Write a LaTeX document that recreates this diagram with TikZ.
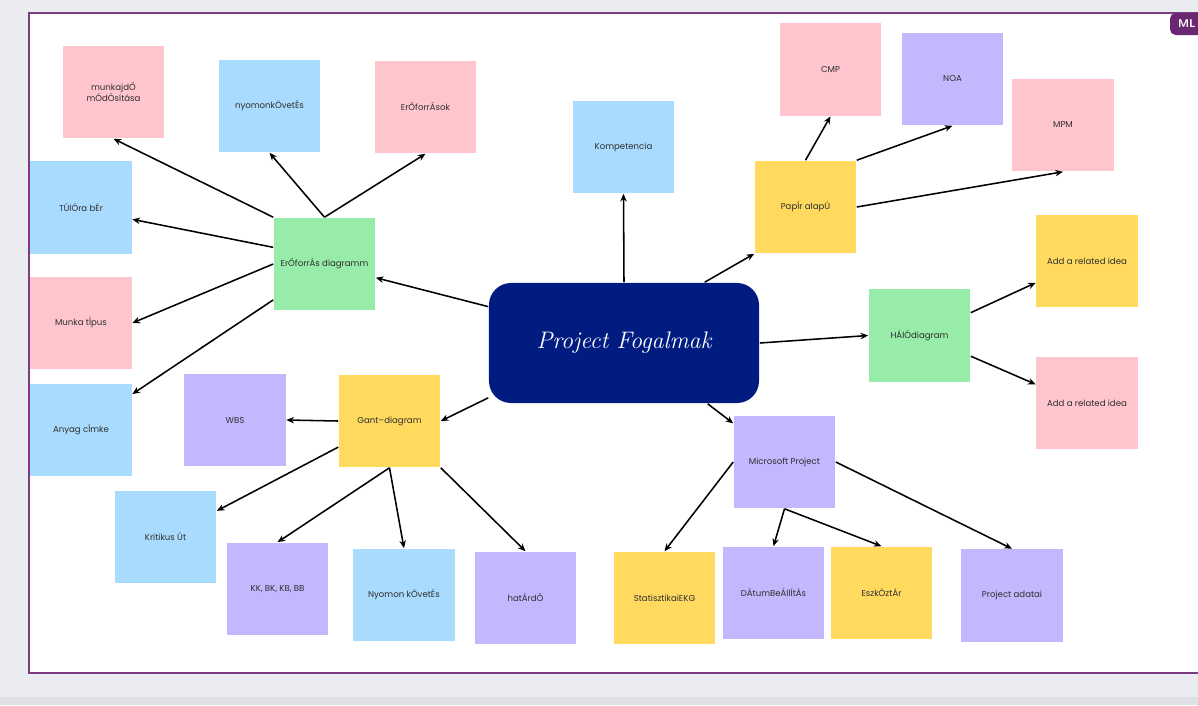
\documentclass[tikz,border=0pt]{standalone}
\usepackage{fontspec}
\newfontfamily\notefont{Poppins}
\usetikzlibrary{arrows.meta}

\definecolor{pagegrey}{HTML}{EBECEF}
\definecolor{bargrey}{HTML}{DFE0E4}
\definecolor{boardline}{HTML}{7D3C82}
\definecolor{badge}{HTML}{6A2872}
\definecolor{navy}{HTML}{001C80}
\definecolor{pinknote}{HTML}{FFC5CD}
\definecolor{bluenote}{HTML}{A9DBFF}
\definecolor{lilacnote}{HTML}{C4B7FE}
\definecolor{yellownote}{HTML}{FFDA5F}
\definecolor{greennote}{HTML}{98ECAA}
\definecolor{notetext}{HTML}{2E2E2E}

\tikzstyle{note}=[rectangle, minimum width=2.525cm, minimum height=2.3cm, inner sep=1pt, align=center, text=notetext, font=\notefont\fontsize{6.1}{7.6}\selectfont]
\tikzstyle{core}=[rectangle, rounded corners=0.55cm, fill=navy, minimum width=6.75cm, minimum height=3cm, text=white, font=\fontsize{17}{19}\selectfont\itshape]

\begin{document}
\begin{tikzpicture}[x=0.025cm, y=-0.025cm, >={Stealth[length=5.5pt,width=4.6pt]}, line width=1.1pt]
    \useasboundingbox (0,0) rectangle (1198,705);
    % board
    \fill[pagegrey] (0,0) rectangle (1198,705);
    \fill[bargrey] (0,697) rectangle (1198,705);
    \draw[boardline, fill=white, line width=1.3pt] (29,13) rectangle (1215,673);
    \node (ml) [fill=badge, rounded corners=4pt, minimum width=0.85cm, minimum height=0.55cm, inner sep=0pt, text=white, font=\sffamily\bfseries\fontsize{8}{9}\selectfont] at (1187,24) {ML};

    \node (0) [core] at (624,343) {Project Fogalmak};
    \node (1) [note, fill=greennote] at (324.5,264) {ErŐforrÁs diagramm};
    \node (2) [note, fill=pinknote] at (113.5,92) {munkajdŐ\\mÓdÓsítása};
    \node (3) [note, fill=bluenote] at (269.5,106) {nyomonkÖvetÉs};
    \node (4) [note, fill=pinknote] at (425.5,107) {ErŐforrÁsok};
    \node (5) [note, fill=bluenote] at (81,207.5) {TÚlÓra bÉr};
    \node (6) [note, fill=pinknote] at (81,323) {Munka tÍpus};
    \node (7) [note, fill=bluenote] at (81,430) {Anyag cÍmke};
    \node (8) [note, fill=yellownote] at (389.5,421) {Gant–diagram};
    \node (9) [note, fill=lilacnote] at (235,420) {WBS};
    \node (10) [note, fill=bluenote] at (165.5,537) {Kritikus Út};
    \node (11) [note, fill=lilacnote] at (277.5,589) {KK, BK, KB, BB};
    \node (12) [note, fill=bluenote] at (404,595) {Nyomon kÖvetÉs};
    \node (13) [note, fill=lilacnote] at (525.5,598) {hatÁrdŐ};
    \node (14) [note, fill=bluenote] at (623.5,147) {Kompetencia};
    \node (15) [note, fill=yellownote] at (805.5,207) {PapÍr alapÚ};
    \node (16) [note, fill=pinknote] at (830.5,69.5) {CMP};
    \node (17) [note, fill=lilacnote] at (952.5,79) {NOA};
    \node (18) [note, fill=pinknote] at (1063,125) {MPM};
    \node (19) [note, fill=greennote] at (919.5,335.5) {HÁlÓdiagram};
    \node (20) [note, fill=yellownote] at (1087,261) {Add a related idea};
    \node (21) [note, fill=pinknote] at (1087,403) {Add a related idea};
    \node (22) [note, fill=lilacnote] at (784.5,462) {Microsoft Project};
    \node (23) [note, fill=yellownote] at (664.5,598) {StatisztikaiEKG};
    \node (24) [note, fill=lilacnote] at (773.5,593) {DÁtumBeÁllÍtÁs};
    \node (25) [note, fill=yellownote] at (881.5,593) {EszkÖztÁr};
    \node (26) [note, fill=lilacnote] at (1012,595.5) {Project adatai};

    \path[->]
    (0.165) edge (1.-15)
    (0.north) edge (14.south)
    (0.37) edge (15.south west)
    (0.east) edge (19.west)
    (0.-36) edge (22.143)
    (0.202) edge (8.east)
    (1.north west) edge (2.south)
    (1.north) edge (3.south)
    (1.north) edge (4.south)
    (1.162) edge (5.-13)
    (1.west) edge (6.east)
    (1.215) edge (7.35)
    (8.west) edge (9.east)
    (8.207) edge (10.27)
    (8.south) edge (11.north)
    (8.south) edge (12.north)
    (8.south east) edge (13.north)
    (15.north) edge (16.south)
    (15.north east) edge (17.south)
    (15.east) edge (18.south)
    (19.24) edge (20.203)
    (19.-22) edge (21.160)
    (22.west) edge (23.north)
    (22.south) edge (24.north)
    (22.south) edge (25.north)
    (22.east) edge (26.north);
  \end{tikzpicture}
\end{document}
